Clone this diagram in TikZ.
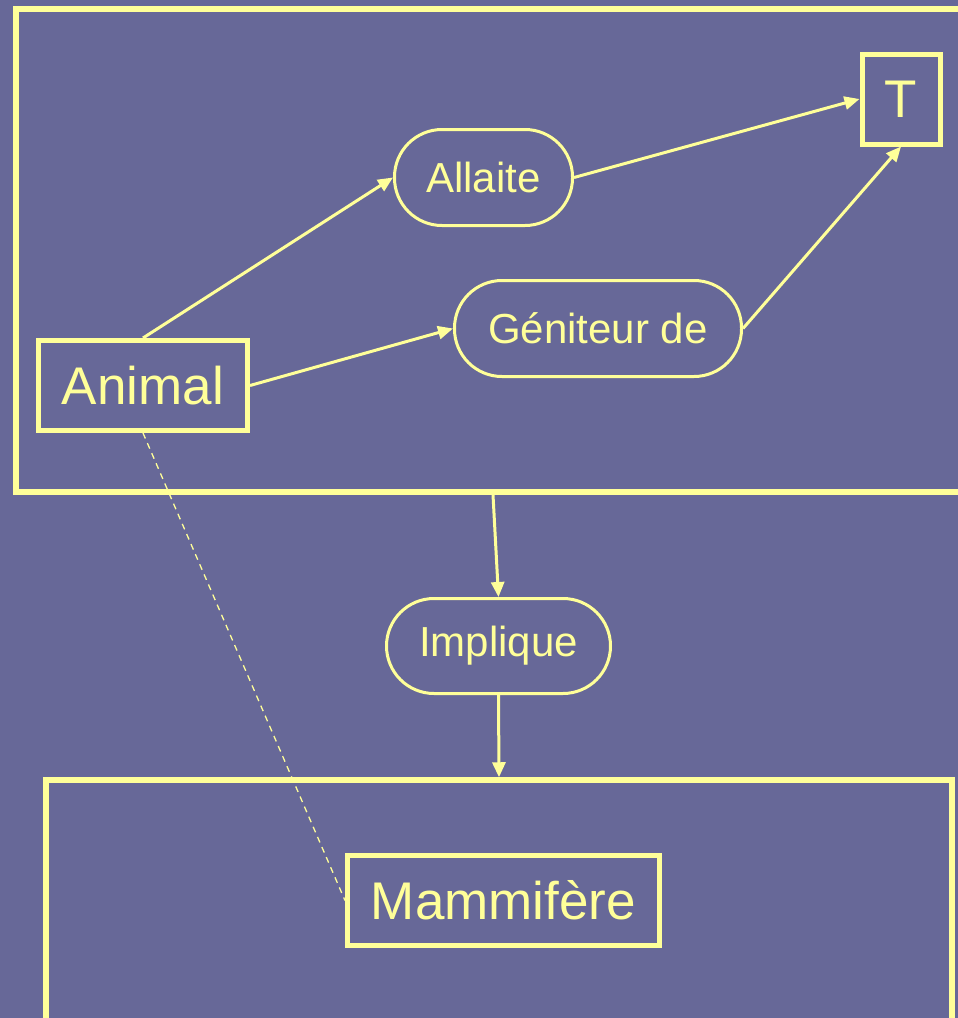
\documentclass[tikz,border=0pt]{standalone}
\usepackage{fontspec}
\setmainfont{Liberation Sans}
\usetikzlibrary{arrows.meta}
\definecolor{bgc}{RGB}{103,104,152}
\definecolor{yel}{RGB}{255,255,153}
\tikzset{
  frame/.style={draw=yel, line width=5.5pt, inner sep=0pt},
  concept/.style={draw=yel, line width=5pt, inner sep=0pt, text=yel, font=\fontsize{53}{60}\selectfont},
  rel/.style={draw=yel, line width=3pt, inner sep=0pt, text=yel, rounded corners=47.5pt, minimum height=96pt, font=\fontsize{42}{48}\selectfont},
  link/.style={draw=yel, line width=3pt, -{Triangle[length=15pt,width=13pt]}},
  dashlink/.style={draw=yel, line width=1.3pt, dash pattern=on 6pt off 5pt}
}
\begin{document}
\begin{tikzpicture}[x=1pt,y=-1pt]
\fill[bgc] (0,0) rectangle (958,1018);
\useasboundingbox (0,0) rectangle (958,1018);
\node[frame, minimum width=954pt, minimum height=483pt] (top) at (493,250.5) {};
\node[frame, minimum width=906pt, minimum height=250pt] (bottom) at (499,905) {};
\node[concept, minimum width=209pt, minimum height=90pt] (animal) at (143,385.5) {Animal};
\node[concept, minimum width=78pt, minimum height=90pt] (T) at (901,99) {T};
\node[concept, minimum width=312pt, minimum height=90pt] (mam) at (503.5,900.5) {Mammifère};
\node[rel, minimum width=178pt] (allaite) at (483.5,177.5) {Allaite};
\node[rel, minimum width=287pt] (gen) at (598,328.5) {Géniteur de};
\node[rel, minimum width=224pt, minimum height=95pt] (impl) at (498.5,646) {Implique};
\draw[link] (animal.north) -- (allaite.west);
\draw[link] (animal.east) -- (gen.west);
\draw[link] (allaite.east) -- (T.west);
\draw[link] (gen.east) -- (T.south);
\draw[link] (top.south) -- (impl.north);
\draw[link] (impl.south) -- (bottom.north);
\draw[dashlink] (animal.south) -- (mam.west);
\end{tikzpicture}
\end{document}
